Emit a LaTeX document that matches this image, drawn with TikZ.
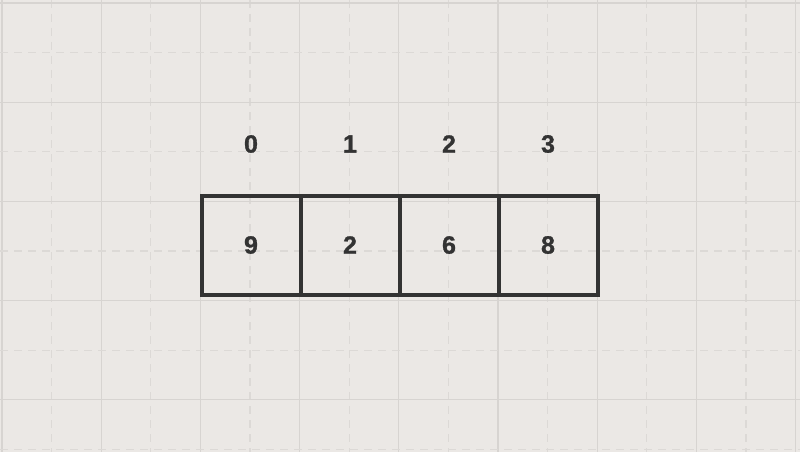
\documentclass[tikz,border=0pt]{standalone}
\usepackage{fontspec}
\setmainfont{Liberation Sans}[BoldFont={Liberation Sans Bold}, BoldFeatures={FakeBold=1.2}]
\usepackage{xcolor}
\usepackage{tikz}
\usetikzlibrary{positioning,calc}

\definecolor{paper}{HTML}{EBE8E5}
\definecolor{gridline}{HTML}{D7D4D1}
\definecolor{gridfaint}{HTML}{DCD9D6}
\definecolor{ink}{HTML}{333333}

\tikzset{
    cell/.style={draw=ink, line width=4pt, minimum size=99pt, inner sep=0pt, outer sep=0pt,
        text=ink, font=\bfseries\fontsize{25}{30}\selectfont},
    idx/.style={text=ink, inner sep=0pt, font=\bfseries\fontsize{25}{30}\selectfont},
    major/.style={gridline, line width=1.3pt},
    minor/.style={gridfaint, line width=1.2pt, dash pattern=on 8pt off 6pt}
}

\begin{document}
\begin{tikzpicture}[x=1pt, y=-1pt]
    % Background
    \fill[paper] (0,0) rectangle (800,452);
    \useasboundingbox (0,0) rectangle (800,452);

    % Grid
    \foreach \i in {0,...,8} {
        \draw[major] ({2+99.2*\i},0) -- ({2+99.2*\i},452);
        \draw[minor] ({51.6+99.2*\i},0) -- ({51.6+99.2*\i},452);
    }
    \foreach \j in {0,...,4} {
        \draw[major] (0,{3+99.2*\j}) -- (800,{3+99.2*\j});
        \draw[minor] (0,{52.6+99.2*\j}) -- (800,{52.6+99.2*\j});
    }

    % Array
    \node[cell] (c0) at (251,245) {9};
    \node[cell, right=0pt of c0] (c1) {2};
    \node[cell, right=0pt of c1] (c2) {6};
    \node[cell, right=0pt of c2] (c3) {8};

    % Indices
    \node[idx] (i0) at ($(c0.center)+(0,-101)$) {0};
    \node[idx] (i1) at ($(c1.center)+(0,-101)$) {1};
    \node[idx] (i2) at ($(c2.center)+(0,-101)$) {2};
    \node[idx] (i3) at ($(c3.center)+(0,-101)$) {3};
\end{tikzpicture}
\end{document}
